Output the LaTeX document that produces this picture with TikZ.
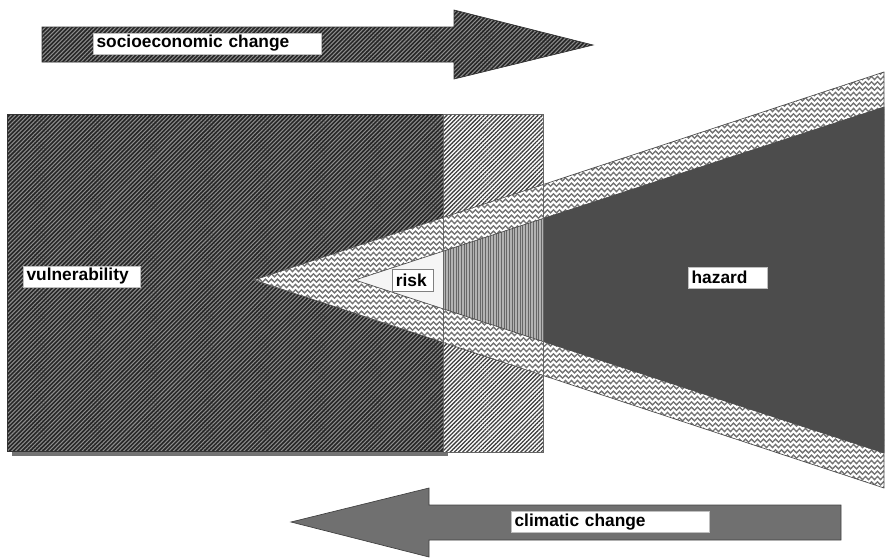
\documentclass[tikz,border=0pt]{standalone}
\usepackage{fontspec}
\setmainfont{Liberation Sans}
\usetikzlibrary{patterns.meta}

\tikzdeclarepattern{
  name=wavy,
  type=uncolored,
  bounding box={(-0.3pt,-2pt) and (4.8pt,2pt)},
  tile size={(4.5pt,4pt)},
  code={
    \draw[line width=1pt] (0,0) sin (1.125pt,1.2pt) cos (2.25pt,0) sin (3.375pt,-1.2pt) cos (4.5pt,0);
  }
}

\begin{document}
\begin{tikzpicture}[
    x=0.75pt, y=-0.75pt,
    darkhatch/.style={preaction={fill=black!85}, pattern={Lines[angle=45,distance=2.2pt,line width=0.8pt]}, pattern color=black!45, draw=black!80, line width=0.5pt},
    lighthatch/.style={preaction={fill=white}, pattern={Lines[angle=45,distance=2.2pt,line width=1pt]}, pattern color=black!75, draw=black!60, line width=0.5pt},
    waveband/.style={preaction={fill=white}, pattern=wavy, pattern color=black!55, draw=black!70, line width=0.5pt},
    riskfill/.style={fill=black!4},
    stripefill/.style={preaction={fill=black!30}, pattern={Lines[angle=90,distance=2pt,line width=0.6pt]}, pattern color=black!60},
    hazardfill/.style={fill=black!70},
    climfill/.style={fill=black!56, draw=black!75, line width=0.5pt},
    shadow/.style={fill=black!55},
    tag/.style={fill=white, draw=black!25, line width=0.4pt, anchor=west, align=left, inner xsep=2.5pt, inner ysep=0pt, minimum height=16pt, font=\fontsize{13}{15}\selectfont\bfseries}
]
\useasboundingbox (0,0) rectangle (886,558);

\fill[shadow] (12,119) rectangle (448,456);
\draw[darkhatch] (7,114) rectangle (443,451);
\draw[lighthatch] (443,114) rectangle (543,452);

\coordinate (outapex) at (254,280);
\coordinate (outtop) at (884,72);
\coordinate (outbot) at (884,488);
\coordinate (inapex) at (355,280);
\coordinate (intop) at (884,107);
\coordinate (inbot) at (884,453);

\draw[waveband] (outapex) -- (outtop) -- (outbot) -- cycle;
\begin{scope}
  \clip (inapex) -- (intop) -- (inbot) -- cycle;
  \fill[riskfill] (340,90) rectangle (443,470);
  \path[stripefill] (443,90) rectangle (543,470);
  \fill[hazardfill] (543,90) rectangle (886,470);
\end{scope}
\draw[black!70, line width=0.5pt] (inapex) -- (intop) -- (inbot) -- cycle;
\draw[black!60, line width=0.5pt] (443,114) rectangle (543,452);

\draw[darkhatch] (42,27) -- (454,27) -- (454,10) -- (593,45) -- (454,79) -- (454,62) -- (42,62) -- cycle;
\draw[climfill] (841,505) -- (429,505) -- (429,488) -- (291,522) -- (429,557) -- (429,540) -- (841,540) -- cycle;

\node[tag, text width=166pt] (socio) at (93,43.5) {socioeconomic change};
\node[tag, text width=82.75pt] (vuln) at (23,276.5) {vulnerability};
\node[tag, text width=25.75pt, draw=black!50, line width=0.8pt] (risk) at (392,280.5) {risk};
\node[tag, text width=54.25pt] (hazard) at (688,277.5) {hazard};
\node[tag, text width=143.5pt] (climate) at (511,522) {climatic change};
\end{tikzpicture}
\end{document}
